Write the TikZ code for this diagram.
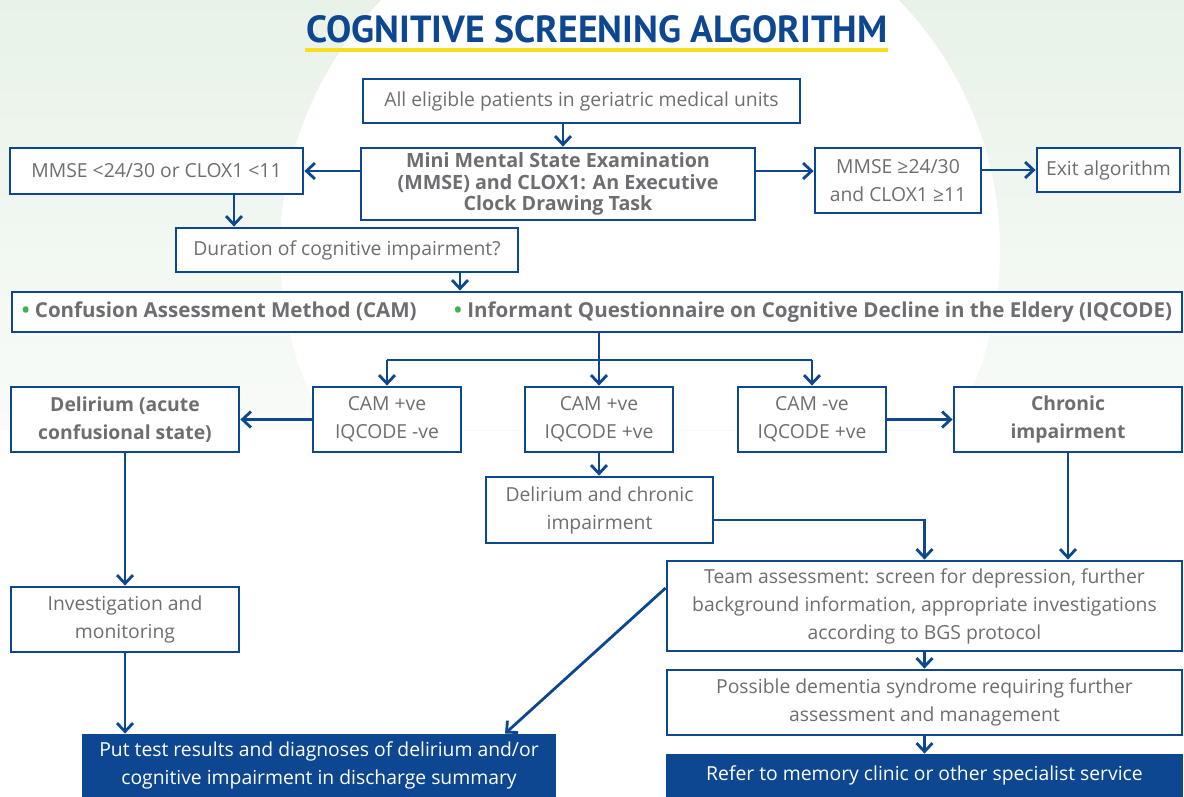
\documentclass[tikz,border=0pt]{standalone}
\usepackage{fontspec}
\setmainfont{Open Sans}
\newfontfamily\headfont{PT Sans}
\usetikzlibrary{arrows.meta}
\definecolor{navy}{RGB}{14,71,145}
\definecolor{txtgray}{RGB}{109,110,113}
\definecolor{dotgreen}{RGB}{57,181,74}
\definecolor{bandyellow}{RGB}{250,222,30}
\definecolor{bgmint}{RGB}{228,240,228}

\begin{document}
\begin{tikzpicture}[x=0.02cm, y=-0.02cm,
  box/.style={draw=navy, line width=1.6pt, fill=white, text=txtgray, align=center, inner sep=1pt,
    font=\fontsize{11}{15.9}\selectfont},
  keybox/.style={box, font=\fontsize{11}{15.9}\selectfont\bfseries},
  endbox/.style={box, fill=navy, text=white},
  arr/.style={draw=navy, line width=1.6pt, -{Straight Barb[length=1.7mm,width=3.2mm]}},
  link/.style={draw=navy, line width=1.6pt}]
\def\u{0.02cm}
\useasboundingbox (0,0) rectangle (1184,796);

% faint background
\begin{scope}
\clip (0,0) rectangle (1184,430);
\shade[even odd rule, top color=bgmint, bottom color=white]
  (0,0) rectangle (1184,430) (640,250) circle (7.2cm);
\end{scope}

% title
\node[text=navy, font=\headfont\fontsize{21.5}{24}\selectfont\bfseries] (title) at (597,29) {COGNITIVE SCREENING ALGORITHM};
\fill[bandyellow] (305,48) rectangle (888,52);

% boxes
\node[box, minimum width=437*\u, minimum height=44*\u] (all) at (581.5,101) {All eligible patients in geriatric medical units};
\node[keybox, minimum width=394*\u, minimum height=72*\u, font=\fontsize{11.2}{12.2}\selectfont\bfseries] (mmse) at (558,184)
  {Mini Mental State Examination\\(MMSE) and CLOX1: An Executive\\Clock Drawing Task};
\node[box, minimum width=293*\u, minimum height=46*\u] (low) at (156.5,171) {MMSE <24/30 or CLOX1 <11};
\node[box, minimum width=166*\u, minimum height=65*\u] (high) at (898,180.5) {MMSE ≥24/30\\and CLOX1 ≥11};
\node[box, minimum width=143*\u, minimum height=44*\u] (exit) at (1108.5,170) {Exit algorithm};
\node[box, minimum width=342*\u, minimum height=44*\u] (dur) at (347,250) {Duration of cognitive impairment?};
\node[keybox, minimum width=1170*\u, minimum height=40*\u, font=\fontsize{11.7}{14}\selectfont\bfseries] (cam) at (597,312)
  {{\color{dotgreen}\textbullet}\ Confusion Assessment Method (CAM)\hspace{0.75cm}{\color{dotgreen}\textbullet}\ Informant Questionnaire on Cognitive Decline in the Eldery (IQCODE)};
\node[box, minimum width=148*\u, minimum height=65*\u] (pn) at (387,419.5) {CAM +ve\\IQCODE -ve};
\node[box, minimum width=148*\u, minimum height=65*\u] (pp) at (599,419.5) {CAM +ve\\IQCODE +ve};
\node[box, minimum width=148*\u, minimum height=65*\u] (np) at (812,419.5) {CAM -ve\\IQCODE +ve};
\node[keybox, minimum width=228*\u, minimum height=65*\u] (delir) at (125,419.5) {Delirium (acute\\confusional state)};
\node[keybox, minimum width=228*\u, minimum height=65*\u] (chron) at (1068,419.5) {Chronic\\impairment};
\node[box, minimum width=227*\u, minimum height=66*\u] (both) at (599.5,510) {Delirium and chronic\\impairment};
\node[box, minimum width=228*\u, minimum height=65*\u] (invest) at (125,619.5) {Investigation and\\monitoring};
\node[box, minimum width=515*\u, minimum height=90*\u] (team) at (924.5,606)
  {Team assessment: screen for depression, further\\background information, appropriate investigations\\according to BGS protocol};
\node[box, minimum width=515*\u, minimum height=65*\u] (dement) at (924.5,702.5)
  {Possible dementia syndrome requiring further\\assessment and management};
\node[endbox, minimum width=515*\u, minimum height=41*\u] (refer) at (924.5,775.5) {Refer to memory clinic or other specialist service};
\node[endbox, minimum width=472*\u, minimum height=61*\u] (summary) at (319,765.5)
  {Put test results and diagnoses of delirium and/or\\cognitive impairment in discharge summary};

% edges
\draw[arr] (all.south -| 563,0) -- (563,0 |- mmse.north); % all to mmse
\draw[arr] (mmse.west |- low.east) -- (low.east); % mmse to low
\draw[arr] (mmse.east |- low.east) -- (high.west |- low.east); % mmse to high
\draw[arr] (high.east |- exit.west) -- (exit.west); % high to exit
\draw[arr] (low.south -| 234,0) -- (234,0 |- dur.north); % low to duration
\draw[arr] (dur.south -| 460,0) -- (460,0 |- cam.north); % duration to cam
\draw[link] (cam.south -| pp) -- (pp |- 0,360) coordinate (split); % cam to split
\draw[link] (split -| pn) -- (split -| np);
\draw[arr] (split -| pn) -- (pn.north);
\draw[arr] (split) -- (pp.north);
\draw[arr] (split -| np) -- (np.north);
\draw[arr] (pn.west) -- (delir.east); % +ve -ve to delirium
\draw[arr] (np.east) -- (chron.west); % -ve +ve to chronic
\draw[arr] (pp.south) -- (pp.south |- both.north); % +ve +ve to both
\draw[arr] (both.east |- 0,520) -| (team.north); % both to team
\draw[arr] (chron.south) -- (chron.south |- team.north); % chronic to team
\draw[arr] (delir.south) -- (invest.north); % delirium to investigation
\draw[arr] (invest.south) -- (invest.south |- summary.north); % investigation to summary
\draw[arr] (team.west |- 0,588) -- (505,0 |- summary.north); % team to summary
\draw[arr] (team.south) -- (dement.north); % team to dementia
\draw[arr] (dement.south) -- (refer.north); % dementia to refer
\end{tikzpicture}
\end{document}
